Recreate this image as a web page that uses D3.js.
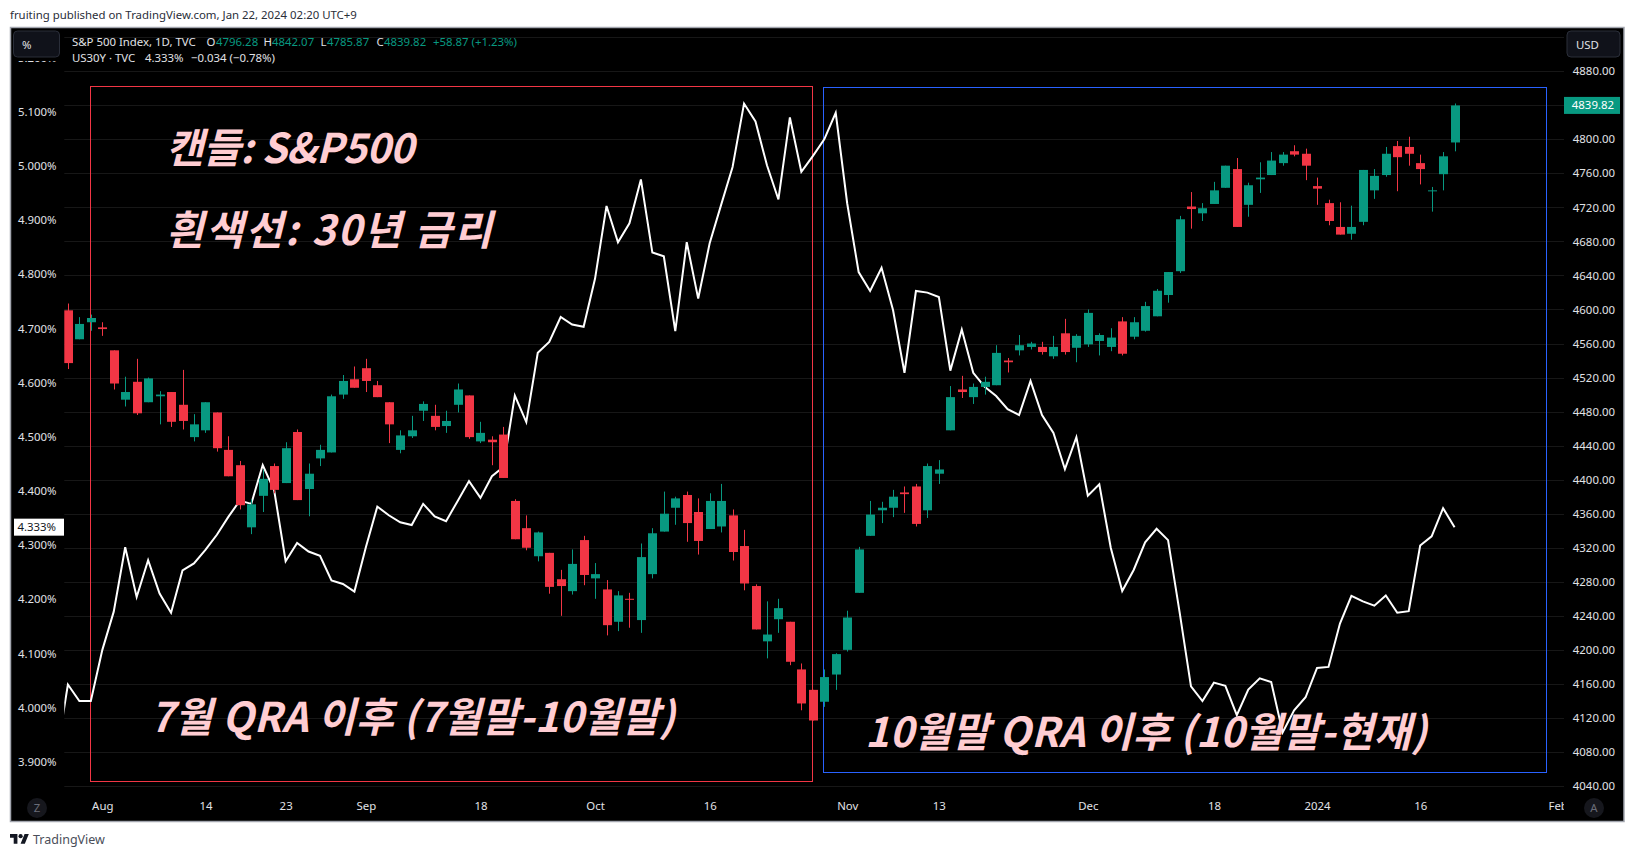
<!DOCTYPE html>
<html>
<head>
<meta charset="utf-8">
<script src="https://cdn.jsdelivr.net/npm/d3@7"></script>
<style>
    html, body { margin: 0; padding: 0; background: #fff; overflow: hidden; }
    svg { display: block; }
    text { font-family: "Noto Sans", sans-serif; }
    .axis path, .axis line { display: none; }
    .axis text { font-family: "Noto Sans", sans-serif; font-size: 11.4px; fill: #e0e2e6; }
    .note { font-family: "Noto Sans CJK KR", sans-serif; font-weight: 700; font-style: italic; fill: #ffcdd2; }
</style>
</head>
<body>
<svg id="chart" width="1634" height="857"></svg>
<script>
// S&P 500 daily bars, Jul 27 2023 - Jan 19 2024
const opens = [4599,4565,4585,4579,4552,4494,4515,4491,4498,4503,4488,4450,4458,4479,4435,4417,4344,4381,4416,4396,4456,4389,4425,4432,4500,4518,4531,4511,4491,4435,4451,4481,4475,4463,4488,4499,4445,4447,4453,4375,4343,4310,4314,4283,4269,4329,4284,4271,4233,4260,4235,4289,4339,4367,4382,4362,4342,4345,4358,4322,4275,4210,4236,4233,4177,4153,4139,4171,4200,4267,4334,4364,4367,4385,4392,4364,4407,4458,4506,4497,4509,4511,4540,4552,4556,4556,4545,4572,4555,4559,4563,4556,4586,4568,4575,4592,4617,4645,4721,4713,4724,4743,4765,4723,4753,4758,4772,4786,4783,4745,4725,4697,4689,4703,4740,4758,4792,4791,4772,4739,4759,4796.28];
const highs = [4607,4591,4594,4585,4552,4521,4542,4520,4504,4503,4529,4477,4491,4479,4451,4422,4377,4412,4419,4444,4459,4419,4441,4500,4523,4533,4542,4516,4491,4458,4475,4492,4488,4481,4513,4499,4468,4451,4462,4377,4358,4339,4314,4294,4318,4334,4302,4282,4269,4267,4325,4343,4386,4380,4386,4378,4384,4395,4365,4341,4277,4257,4260,4233,4184,4153,4177,4196,4246,4321,4375,4374,4388,4392,4395,4419,4423,4510,4522,4513,4521,4558,4543,4570,4562,4562,4569,4589,4571,4600,4572,4578,4591,4591,4609,4624,4644,4710,4738,4725,4750,4769,4778,4749,4773,4785,4785,4793,4789,4755,4729,4726,4722,4764,4765,4791,4798,4803,4782,4744,4785,4842.07];
const lows = [4530,4565,4575,4569,4506,4486,4476,4491,4465,4462,4459,4445,4455,4433,4404,4365,4336,4362,4384,4396,4376,4357,4416,4432,4495,4508,4503,4497,4443,4431,4449,4469,4458,4455,4479,4448,4443,4417,4402,4330,4317,4304,4266,4240,4265,4276,4260,4217,4222,4226,4220,4284,4339,4347,4327,4312,4342,4338,4305,4270,4224,4190,4220,4182,4129,4117,4133,4153,4198,4267,4334,4349,4356,4361,4345,4355,4395,4458,4496,4489,4500,4511,4526,4546,4553,4547,4542,4547,4538,4556,4546,4551,4546,4565,4574,4592,4608,4643,4695,4704,4724,4743,4697,4709,4737,4758,4769,4780,4752,4723,4699,4688,4682,4699,4730,4756,4739,4769,4747,4715,4740,4785.87];
const closes = [4537,4583,4590,4577,4513,4503,4478,4519,4500,4468,4469,4465,4491,4437,4404,4370,4371,4401,4388,4437,4376,4407,4435,4498,4516,4508,4516,4497,4465,4452,4458,4489,4462,4469,4506,4450,4455,4444,4402,4330,4320,4338,4274,4275,4301,4288,4289,4229,4264,4259,4309,4337,4360,4378,4349,4328,4375,4375,4315,4278,4224,4218,4249,4186,4137,4117,4168,4195,4238,4318,4359,4367,4380,4383,4348,4416,4412,4497,4503,4509,4515,4549,4538,4558,4560,4550,4556,4550,4569,4596,4570,4567,4548,4585,4604,4622,4644,4706,4718,4719,4740,4769,4697,4746,4755,4775,4782,4782,4769,4742,4704,4688,4697,4764,4757,4783,4779,4783,4765,4740,4780,4839.82];

// US30Y closes, same bars. us30yBefore is the close just left of the pane
const us30yBefore = 3.91;
const us30y = [4.0425,4.012,4.012,4.106,4.177,4.296,4.204,4.272,4.2105,4.175,4.253,4.266,4.291,4.319,4.352,4.382,4.376,4.4477,4.401,4.270,4.304,4.288,4.280,4.2345,4.228,4.214,4.296,4.371,4.355,4.342,4.337,4.376,4.353,4.344,4.381,4.418,4.387,4.427,4.444,4.576,4.527,4.655,4.675,4.721,4.707,4.703,4.792,4.926,4.859,4.894,4.975,4.840,4.833,4.695,4.859,4.755,4.857,4.928,4.998,5.115,5.082,5.001,4.938,5.0895,4.989,5.018,5.049,5.098,4.931,4.804,4.769,4.812,4.734,4.618,4.769,4.766,4.758,4.622,4.698,4.618,4.592,4.575,4.551,4.540,4.603,4.540,4.507,4.440,4.499,4.391,4.412,4.295,4.215,4.254,4.305,4.330,4.309,4.177,4.039,4.012,4.046,4.040,3.986,4.033,4.054,4.047,3.954,3.995,4.019,4.073,4.075,4.155,4.206,4.196,4.188,4.207,4.175,4.178,4.299,4.316,4.368,4.333];

const priceTicks = [4040,4080,4120,4160,4200,4240,4280,4320,4360,4400,4440,4480,4520,4560,4600,4640,4680,4720,4760,4800,4880];
const gridTicks = [4040,4080,4120,4160,4200,4240,4280,4320,4360,4400,4440,4480,4520,4560,4600,4640,4680,4720,4760,4800,4840,4880,4920];
const pctTicks = [3.9,4.0,4.1,4.2,4.3,4.4,4.5,4.6,4.7,4.8,4.9,5.0,5.1,5.2];
const timeTicks = [3,12,19,26,36,46,56,68,76,89,100,109,118,130];
const timeLabels = ["Aug","14","23","Sep","18","Oct","16","Nov","13","Dec","18","2024","16","Feb"];

const redBox = [1.93, 64.95, 4863, 4046];
const blueBox = [65.93, 129, 4861, 4056.4];

const W = 1634, H = 857;
const paneL = 64.3, paneR = 1564, paneT = 28, paneB = 787;

const x = d3.scaleLinear().domain([0, 130]).range([67.9, 1557.7]);
const y = d3.scaleLinear().domain([4040, 4800]).range([786, 139.3]);
const yPct = d3.scaleLinear().domain([3.9, 5.1]).range([761.7, 111.7]);

const up = "#089981", down = "#f23645";
const svg = d3.select("#chart");

svg.append("text").attr("x", 10).attr("y", 19).attr("font-size", 11.4).attr("fill", "#2a2e39")
    .text("fruiting published on TradingView.com, Jan 22, 2024 02:20 UTC+9");

svg.append("rect").attr("x", 10.5).attr("y", 27.5).attr("width", 1613.5).attr("height", 794)
    .attr("fill", "#000").attr("stroke", "#a3a6af").attr("stroke-width", 1.5);

const defs = svg.append("defs");
defs.append("clipPath").attr("id", "pane").append("rect")
    .attr("x", paneL).attr("y", paneT).attr("width", paneR - paneL).attr("height", paneB - paneT);
defs.append("clipPath").attr("id", "timeClip").append("rect")
    .attr("x", 64).attr("y", 790).attr("width", paneR - 64).attr("height", 30);

// grid
svg.append("g").selectAll("line").data(gridTicks).enter().append("line")
    .attr("x1", paneL).attr("x2", paneR)
    .attr("y1", (d) => Math.round(y(d)) + 0.5).attr("y2", (d) => Math.round(y(d)) + 0.5)
    .attr("stroke", "#171717").attr("stroke-width", 1);

// axes
svg.append("g").attr("class", "axis").attr("transform", "translate(56.5,0)")
    .call(d3.axisLeft(yPct).tickValues(pctTicks).tickSize(0).tickPadding(0).tickFormat((d) => d.toFixed(3) + "%"));
svg.append("g").attr("class", "axis").attr("transform", "translate(1615,0)")
    .call(d3.axisLeft(y).tickValues(priceTicks).tickSize(0).tickPadding(0).tickFormat((d) => d.toFixed(2)));
svg.append("g").attr("clip-path", "url(#timeClip)")
    .append("g").attr("class", "axis").attr("transform", "translate(0,799)")
    .call(d3.axisBottom(x).tickValues(timeTicks).tickSize(0).tickPadding(3).tickFormat((d, i) => timeLabels[i]));

// the 5.200% label is cut off by the legend area
svg.append("rect").attr("x", 12).attr("y", 29).attr("width", 52).attr("height", 32).attr("fill", "#000");

// drawn boxes
const box = (b, color) => svg.append("rect")
    .attr("x", Math.round(x(b[0])) + 0.5).attr("y", Math.round(y(b[2])) + 0.5)
    .attr("width", Math.round(x(b[1]) - x(b[0]))).attr("height", Math.round(y(b[3]) - y(b[2])))
    .attr("fill", "none").attr("stroke", color).attr("stroke-width", 1);
box(redBox, down);
box(blueBox, "#2962ff");

// 30Y line
const linePts = [[-1, us30yBefore]].concat(us30y.map((v, i) => [i, v]));
svg.append("path").datum(linePts)
    .attr("clip-path", "url(#pane)")
    .attr("fill", "none").attr("stroke", "#fff").attr("stroke-width", 2).attr("stroke-linejoin", "miter")
    .attr("d", d3.line().x((d) => x(d[0])).y((d) => yPct(d[1])));

// candles
const bars = d3.range(closes.length);
const candles = svg.append("g").attr("clip-path", "url(#pane)").selectAll("g").data(bars).enter().append("g")
    .attr("fill", (i) => closes[i] >= opens[i] ? up : down);
candles.append("rect")
    .attr("x", (i) => Math.round(x(i)) )
    .attr("width", 1)
    .attr("y", (i) => y(highs[i]))
    .attr("height", (i) => y(lows[i]) - y(highs[i]));
candles.append("rect")
    .attr("x", (i) => Math.round(x(i)) - 4)
    .attr("width", 9)
    .attr("y", (i) => y(Math.max(opens[i], closes[i])))
    .attr("height", (i) => Math.max(1, Math.abs(y(opens[i]) - y(closes[i]))));

// notes: text, x, baseline, width
const notes = [
    ["캔들: S&P500", 166, 163, 248],
    ["흰색선: 30년 금리", 166, 245, 326],
    ["7월 QRA 이후 (7월말-10월말)", 150, 732, 525],
    ["10월말 QRA 이후 (10월말-현재)", 865, 747, 562],
];
svg.append("g").selectAll("text").data(notes).enter().append("text")
    .attr("class", "note").attr("font-size", 41)
    .attr("x", (d) => d[1]).attr("y", (d) => d[2])
    .attr("textLength", (d) => d[3]).attr("lengthAdjust", "spacing")
    .text((d) => d[0]);

// legend
const legendRow = (yy, parts) => parts.forEach((p) => {
    svg.append("text").attr("x", p[1]).attr("y", yy).attr("font-size", 11.4).attr("fill", p[2]).text(p[0]);
});
const ltxt = "#e0e2e6";
legendRow(46, [
    ["S&P 500 Index, 1D, TVC", 72, ltxt],
    ["O", 206.5, ltxt], ["4796.28", 216, up],
    ["H", 263.5, ltxt], ["4842.07", 272, up],
    ["L", 320.5, ltxt], ["4785.87", 327, up],
    ["C", 376.5, ltxt], ["4839.82", 384, up],
    ["+58.87 (+1.23%)", 433, up],
]);
legendRow(62, [
    ["US30Y · TVC", 72, ltxt],
    ["4.333%", 145, ltxt],
    ["−0.034 (−0.78%)", 191, ltxt],
]);

// buttons
const button = (x0, w, label, tx) => {
    svg.append("rect").attr("x", x0).attr("y", 31).attr("width", w).attr("height", 26).attr("rx", 4)
        .attr("fill", "#10121a").attr("stroke", "#2a2e39");
    svg.append("text").attr("x", tx).attr("y", 49).attr("font-size", 11.4).attr("fill", ltxt).text(label);
};
button(13.5, 46, "%", 22);
button(1567, 53, "USD", 1576);

// last value tags
svg.append("rect").attr("x", 1564).attr("y", y(closes[121]) - 8.5).attr("width", 56).attr("height", 17).attr("fill", up);
svg.append("text").attr("x", 1614).attr("y", y(closes[121]) + 4).attr("text-anchor", "end")
    .attr("font-size", 11.4).attr("fill", "#fff").text(closes[121].toFixed(2));
svg.append("rect").attr("x", 14).attr("y", yPct(us30y[121]) - 8.5).attr("width", 50).attr("height", 17).attr("fill", "#fff");
svg.append("text").attr("x", 56).attr("y", yPct(us30y[121]) + 4).attr("text-anchor", "end")
    .attr("font-size", 11.4).attr("fill", "#131722").text(us30y[121].toFixed(3) + "%");

// Z and A round buttons
[[37, "Z"], [1594, "A"]].forEach((b) => {
    svg.append("circle").attr("cx", b[0]).attr("cy", 808).attr("r", 10).attr("fill", "#16171d");
    svg.append("text").attr("x", b[0]).attr("y", 812).attr("text-anchor", "middle")
        .attr("font-size", 11.4).attr("fill", "#6a6d78").text(b[1]);
});

// footer logo
const logo = svg.append("g").attr("transform", "translate(10,832) scale(0.53)").attr("fill", "#131722");
logo.append("path").attr("d", "M14 22H7V11H0V4h14v18zM28 22h-8l7.5-18h8L28 22z");
logo.append("circle").attr("cx", 20).attr("cy", 8).attr("r", 4);
svg.append("text").attr("x", 33).attr("y", 844).attr("font-size", 12.5).attr("fill", "#4a4e59").text("TradingView");
</script>
</body>
</html>
